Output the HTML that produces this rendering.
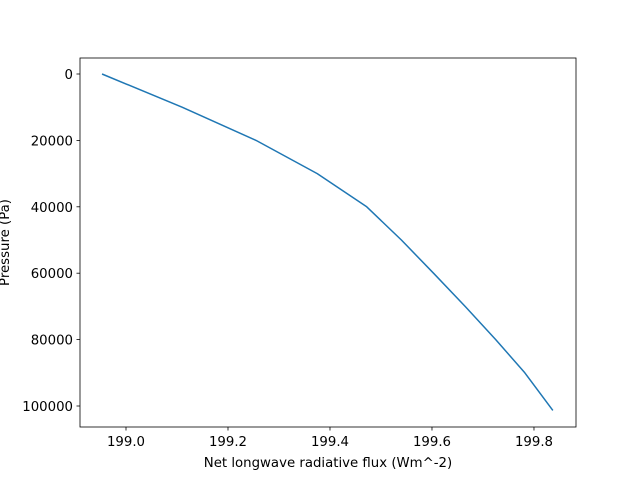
<!DOCTYPE html>
<html><head><meta charset="utf-8"><style>
body{margin:0;background:#fff;}
svg text{font-family:"DejaVu Sans","Liberation Sans",sans-serif;font-size:13.3px;fill:#000;}
</style></head><body>
<svg width="640" height="480" id="chart">
<rect x="0" y="0" width="640" height="480" fill="#fff"/>
<g id="plot"></g>
</svg>
<script>
const flux = [198.953, 199.11, 199.255, 199.375, 199.472, 199.54, 199.603, 199.665, 199.725, 199.782, 199.837];
const pressure = [0, 10000, 20000, 30000, 40000, 50000, 60000, 70000, 80000, 90000, 101325];
const xTicks = [199.0, 199.2, 199.4, 199.6, 199.8];
const xTickLabels = ["199.0", "199.2", "199.4", "199.6", "199.8"];
const yTicks = [0, 20000, 40000, 60000, 80000, 100000];
const yTickLabels = ["0", "20000", "40000", "60000", "80000", "100000"];

const L=80,R=576,T=58,B=427;
const xMin=198.9098,xMax=199.8824,yMin=-4819,yMax=106325;
const sx=v=>L+(v-xMin)/(xMax-xMin)*(R-L);
const sy=v=>T+(v-yMin)/(yMax-yMin)*(B-T);
const NS="http://www.w3.org/2000/svg";
const g=document.getElementById('plot');
function mk(t,a,p){const e=document.createElementNS(NS,t);for(const k in a)e.setAttribute(k,a[k]);(p||g).appendChild(e);return e;}

xTicks.forEach((v,i)=>{
  const x=sx(v);
  const tk=mk('line',{x1:x,x2:x,y1:B,y2:B+3.5,stroke:'#000','stroke-width':0.8});
  
  
  const t=mk('text',{x:x,y:B+19,'text-anchor':'middle'});t.textContent=xTickLabels[i];
  
  
});
yTicks.forEach((v,i)=>{
  const y=sy(v);
  const tk=mk('line',{x1:L-3.5,x2:L,y1:y,y2:y,stroke:'#000','stroke-width':0.8});
  
  
  const t=mk('text',{x:L-7,y:y+5,'text-anchor':'end'});t.textContent=yTickLabels[i];
  
  
});
const line=mk('polyline',{points:flux.map((f,i)=>sx(f)+','+sy(pressure[i])).join(' '),fill:'none',stroke:'#1f77b4','stroke-width':1.5,'stroke-linejoin':'round'});


const frame=mk('rect',{x:L,y:T,width:R-L,height:B-T,fill:'none',stroke:'#000','stroke-width':0.8});


const xl=mk('text',{x:(L+R)/2,y:467,'text-anchor':'middle'});xl.textContent='Net longwave radiative flux (Wm^-2)';


const yl=mk('text',{x:0,y:0,'text-anchor':'middle',transform:'translate(9,'+((T+B)/2)+') rotate(-90)'});yl.textContent='Pressure (Pa)';


</script>
</body></html>
